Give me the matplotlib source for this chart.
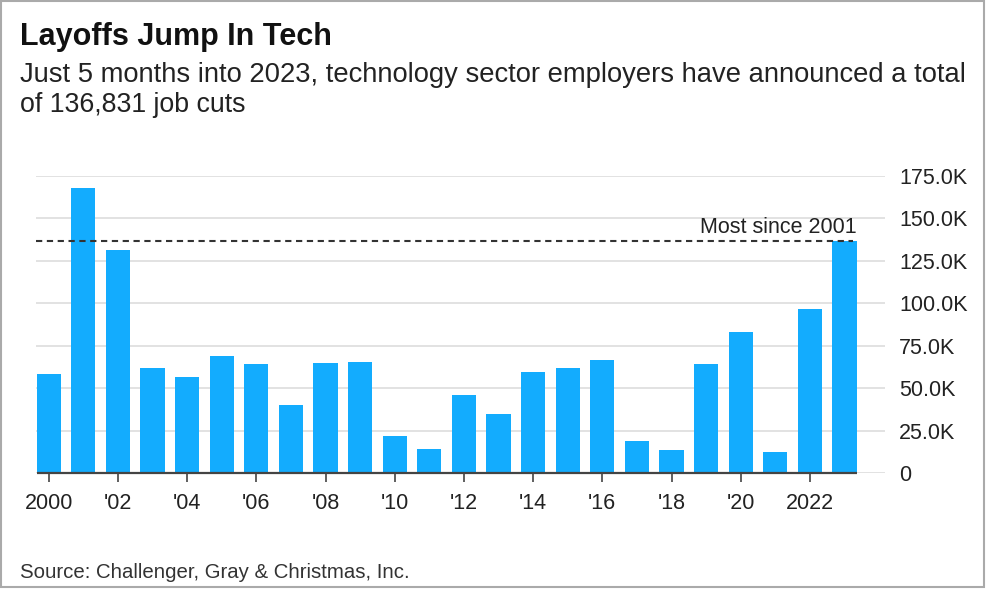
"""
Layoffs Jump In Tech - annual tech sector job cuts
"""
import matplotlib
matplotlib.use("Agg")
import matplotlib.pyplot as plt
from matplotlib.patches import Rectangle
from matplotlib.ticker import FuncFormatter

# data (job cuts, thousands)
years = list(range(2000, 2024))
job_cuts_k = [58.3, 168.0, 131.2, 61.9, 56.8, 69.1, 64.0, 39.9, 64.6, 65.2,
              21.6, 14.3, 46.0, 34.8, 59.5, 61.9, 66.8, 19.0, 13.7, 64.0,
              82.9, 12.6, 96.8, 136.831]
record_k = 136.831
y_ticks_k = [0, 25, 50, 75, 100, 125, 150, 175]
x_tick_years = list(range(2000, 2024, 2))
x_tick_labels = ["2000", "'02", "'04", "'06", "'08", "'10", "'12",
                 "'14", "'16", "'18", "'20", "2022"]

BAR_COLOR = "#13acfe"
DARK = "#222222"
W, H = 986, 589

plt.rcParams["font.family"] = ["Liberation Sans", "DejaVu Sans"]

fig = plt.figure(figsize=(W / 100, H / 100), dpi=100)

# axes placed in pixel terms: left 36, right 885, bottom 473, top 176
ax = fig.add_axes([36 / W, (H - 473) / H, (885 - 36) / W, (473 - 176) / H])

xs = [y - years[0] for y in years]
bar_w = 0.7
ax.bar(xs, job_cuts_k, width=bar_w, color=BAR_COLOR, zorder=2)

ax.set_ylim(0, 175)
ax.set_xlim(-0.367, 24.17)

# gridlines
for t in y_ticks_k:
    ax.axhline(t, color="#dddddd", lw=1.2, zorder=1)

# dark baseline under bars only
left = xs[0] - bar_w / 2
right = xs[-1] + bar_w / 2
ax.plot([left, right], [0, 0], color="#444444", lw=1.6, zorder=3,
        solid_capstyle="butt", clip_on=False)

# record line
ax.plot([left - 0.02, right - 0.1], [record_k, record_k], color="#333333",
        lw=1.5, ls=(0, (3, 2.2)), zorder=4)
ax.annotate("Most since 2001", xy=(right, record_k), xytext=(0, 5.5),
            textcoords="offset points", ha="right", va="baseline",
            fontsize=15.5, color=DARK)

for s in ax.spines.values():
    s.set_visible(False)

ax.yaxis.tick_right()
ax.set_yticks(y_ticks_k)
ax.yaxis.set_major_formatter(FuncFormatter(lambda v, p: "0" if v == 0 else f"{v:.1f}K"))
ax.tick_params(axis="y", length=0, pad=10, labelsize=15.5, labelcolor=DARK)

ax.set_xticks([y - years[0] for y in x_tick_years])
ax.set_xticklabels(x_tick_labels)
ax.tick_params(axis="x", length=6.5, width=1.2, color="#444444", pad=8,
               labelsize=15.5, labelcolor=DARK)

# titles
fig.text(20 / W, 1 - 45 / H, "Layoffs Jump In Tech", fontsize=22,
         fontweight="bold", color="#111111", va="baseline")
fig.text(20 / W, 1 - 81.7 / H,
         "Just 5 months into 2023, technology sector employers have announced a total",
         fontsize=19.7, color=DARK, va="baseline")
fig.text(20 / W, 1 - 111.7 / H, "of 136,831 job cuts", fontsize=19.3,
         color=DARK, va="baseline")
fig.text(20 / W, 1 - 572 / H, "Source: Challenger, Gray & Christmas, Inc.",
         fontsize=14.7, color="#333333", va="center")

# outer frame
fig.add_artist(Rectangle((1 / W, 2 / H), 983 / W, 586 / H, transform=fig.transFigure,
                         fill=False, edgecolor="#aaaaaa", lw=1.5))

fig.savefig("out.png", dpi=100)
